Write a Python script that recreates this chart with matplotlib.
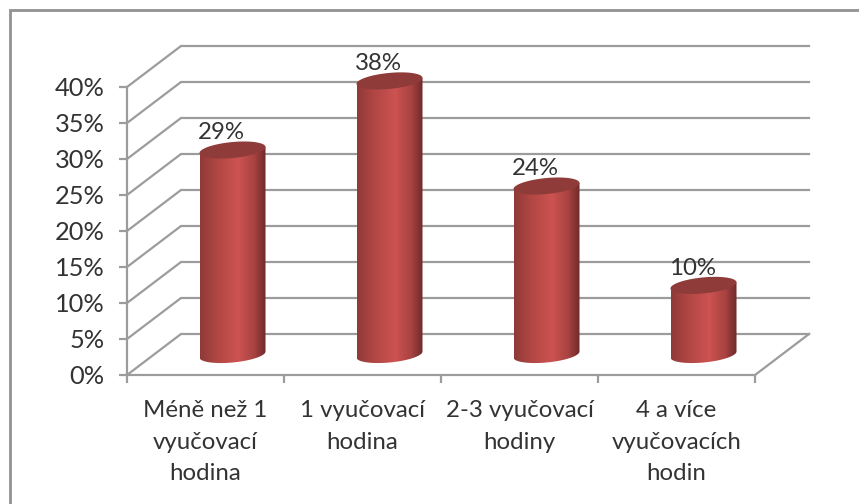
import numpy as np
import matplotlib
matplotlib.use("Agg")
import matplotlib.pyplot as plt
from matplotlib.colors import LinearSegmentedColormap
from matplotlib.lines import Line2D
from matplotlib.patches import Polygon

categories = ["Méně než 1\nvyučovací\nhodina", "1 vyučovací\nhodina",
              "2-3 vyučovací\nhodiny", "4 a více\nvyučovacích\nhodin"]
values = [28.4, 38.0, 23.4, 9.6]
value_labels = ["29%", "38%", "24%", "10%"]
y_ticks = [0, 5, 10, 15, 20, 25, 30, 35, 40]

W, H = 859, 504
GRID = "#9c9c9c"
TEXT = "#333333"
plt.rcParams["font.family"] = ["Lato", "DejaVu Sans"]

fig = plt.figure(figsize=(W / 100, H / 100), dpi=100, facecolor="white")
L, R, T, B = 127, 755, 87, 375
ax = fig.add_axes([L / W, 1 - B / H, (R - L) / W, (B - T) / H])
ax.set_xlim(0, 4)
ax.set_ylim(0, 40)
ax.patch.set_alpha(0)

px_x = (R - L) / 4
px_y = (B - T) / 40
dx = 54 / px_x      # depth offset, category units
dy = 41 / px_y      # depth offset, percent units

# outer frame: only the top and left edges are visible
fig.add_artist(Line2D([9.5 / W, 9.5 / W, 1], [0, 1 - 10 / H, 1 - 10 / H],
                      transform=fig.transFigure, color="#929292", lw=2.0,
                      solid_joinstyle="miter"))

# back wall gridlines and side wall
for v in y_ticks:
    ax.plot([0, dx, 4 + dx], [v, v + dy, v + dy], color=GRID, lw=1.6,
            clip_on=False, zorder=1, solid_joinstyle="miter")
ax.plot([4, 4 + dx], [0, dy], color=GRID, lw=1.6, clip_on=False, zorder=1)

# axes
for s in ("top", "right"):
    ax.spines[s].set_visible(False)
for s in ("left", "bottom"):
    ax.spines[s].set_color(GRID)
    ax.spines[s].set_linewidth(1.6)
    ax.spines[s].set_zorder(2)
ax.set_yticks(y_ticks)
ax.set_yticklabels([f"{v}%" for v in y_ticks])
ax.set_xticks(range(5))
ax.set_xticklabels([])
ax.tick_params(axis="both", length=6, width=1.6, color=GRID)
ax.tick_params(axis="y", labelsize=18.3, labelcolor=TEXT, pad=10)
for i, c in enumerate(categories):
    ax.annotate(c, (i + 0.5, 0), xytext=(0, -18), textcoords="offset points",
                ha="center", va="top", fontsize=17.3, color=TEXT,
                linespacing=1.62, annotation_clip=False)

# cylinders
cmap = LinearSegmentedColormap.from_list("cyl", [
    (0.0, "#8f3a38"), (0.25, "#b04643"), (0.58, "#cc5351"),
    (0.82, "#a94341"), (1.0, "#6e2b2a")])
hw = 33 / px_x
a = 8.0 / px_y
k = 3.0 / px_y
grad = np.linspace(0, 1, 256).reshape(1, -1)
t = np.linspace(0, 2 * np.pi, 181)


def rim(cx, cy, tt):
    return (cx + hw * np.cos(tt), cy + a * np.sin(tt) + k * np.cos(tt))


for i, v in enumerate(values):
    cx = i + 0.5 + dx / 2
    base = dy / 2
    top = v + dy / 2
    low = np.linspace(np.pi, 2 * np.pi, 90)
    xl, yl = rim(cx, base, low)
    body = Polygon(np.column_stack([np.r_[xl, cx + hw, cx - hw],
                                    np.r_[yl, top + k, top - k]]),
                   closed=True, transform=ax.transData, fc="none", ec="none")
    body.set_clip_on(False)
    ax.add_patch(body)
    im = ax.imshow(grad, cmap=cmap, aspect="auto", zorder=3,
                   extent=(cx - hw, cx + hw, base - 3 * a, top + 3 * a))
    im.set_clip_path(body)
    im.set_clip_box(fig.bbox)
    xt, yt = rim(cx, top, t)
    ax.fill(xt, yt, color="#8e3b39", lw=0, zorder=4, clip_on=False)
    ax.annotate(value_labels[i], (cx, top + a), xytext=(-8, -1),
                textcoords="offset points", ha="center", va="bottom",
                fontsize=17.3, color=TEXT, zorder=5, annotation_clip=False)

ax.set_xlim(0, 4)
ax.set_ylim(0, 40)
fig.savefig("out.png", dpi=100)
